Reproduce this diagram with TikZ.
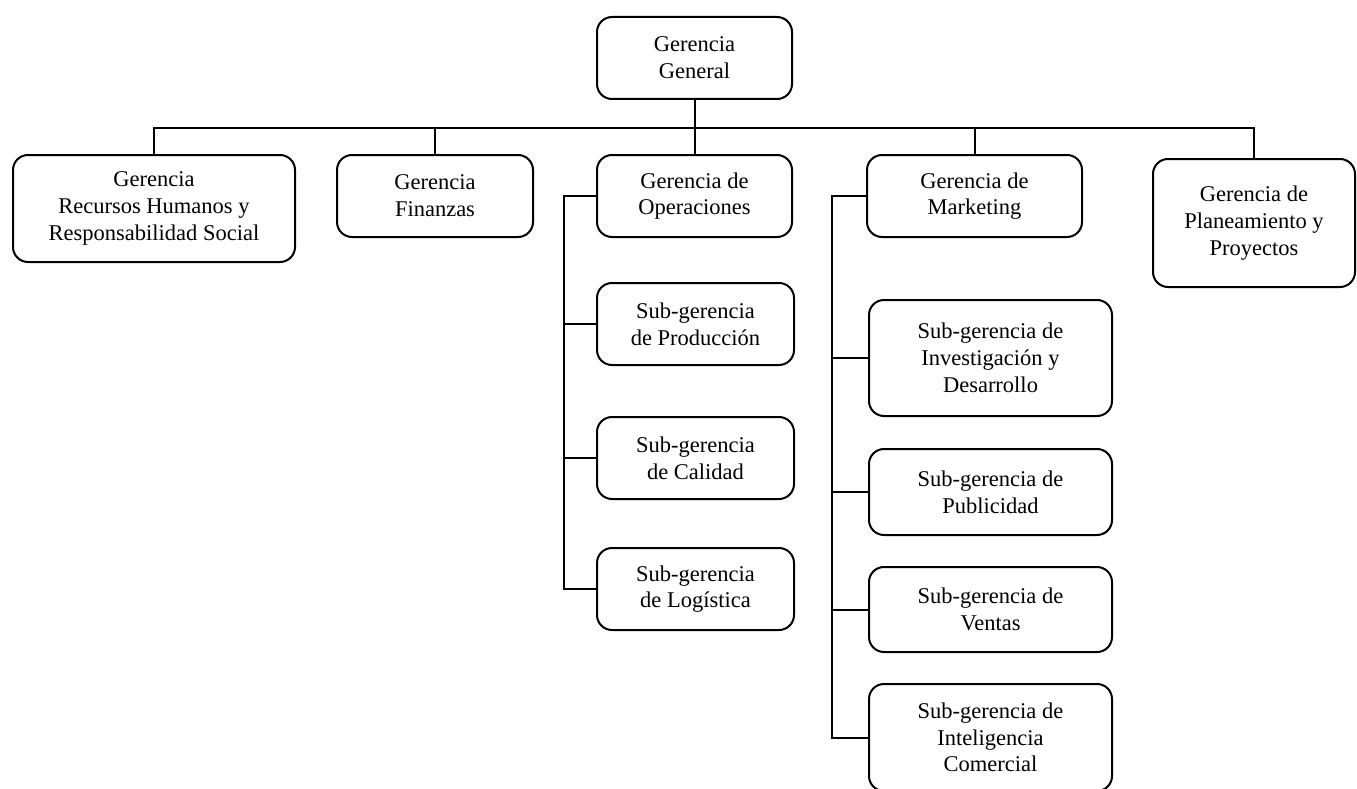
\documentclass[tikz,border=0pt]{standalone}
\usepackage{fontspec}
\setmainfont{Liberation Serif}
\begin{document}
\begin{tikzpicture}[x=1pt,y=-1pt,
  unit/.style={draw, line width=2pt, rounded corners=15pt, align=center, inner sep=0pt, font=\fontsize{22.5pt}{26.7pt}\selectfont},
  link/.style={line width=2pt}]
\useasboundingbox (0,0) rectangle (1357,789);
\node[unit, minimum width=195pt, minimum height=82pt] (general) at (694.5,58) {Gerencia\\General};
\node[unit, minimum width=282pt, minimum height=107pt] (rrhh) at (154,208.5) {Gerencia\\Recursos Humanos y\\Responsabilidad Social};
\node[unit, minimum width=196pt, minimum height=82pt] (fin) at (435,196) {Gerencia\\Finanzas};
\node[unit, minimum width=195pt, minimum height=82pt] (ops) at (694.5,196) {Gerencia de\\Operaciones};
\node[unit, minimum width=215pt, minimum height=82pt] (mkt) at (974.5,196) {Gerencia de\\Marketing};
\node[unit, minimum width=202pt, minimum height=128pt] (plan) at (1254,223) {Gerencia de\\Planeamiento y\\Proyectos};
\node[unit, minimum width=197pt, minimum height=82pt] (prod) at (695.5,324) {Sub-gerencia\\de Producción};
\node[unit, minimum width=197pt, minimum height=82pt] (cal) at (695.5,458) {Sub-gerencia\\de Calidad};
\node[unit, minimum width=197pt, minimum height=82pt] (log) at (695.5,589) {Sub-gerencia\\de Logística};
\node[unit, minimum width=243pt, minimum height=116pt] (inv) at (990.5,358) {Sub-gerencia de\\Investigación y\\Desarrollo};
\node[unit, minimum width=243pt, minimum height=86pt] (pub) at (990.5,492) {Sub-gerencia de\\Publicidad};
\node[unit, minimum width=243pt, minimum height=85pt] (ven) at (990.5,609.5) {Sub-gerencia de\\Ventas};
\node[unit, minimum width=243pt, minimum height=107pt] (intel) at (990.5,737.5) {Sub-gerencia de\\Inteligencia\\Comercial};
\coordinate (bus) at (0,128);
\coordinate (opsline) at (564,0);
\coordinate (mktline) at (832,0);
\draw[link] (general.south) -- (ops.north);
\draw[link] (rrhh.north) -- (rrhh.north |- bus) -- (plan.north |- bus) -- (plan.north);
\draw[link] (fin.north) -- (fin.north |- bus);
\draw[link] (mkt.north) -- (mkt.north |- bus);
\draw[link] (ops.west) -- (ops.west -| opsline) -- (log.west -| opsline) -- (log.west);
\draw[link] (prod.west) -- (prod.west -| opsline);
\draw[link] (cal.west) -- (cal.west -| opsline);
\draw[link] (mkt.west) -- (mkt.west -| mktline) -- (intel.west -| mktline) -- (intel.west);
\draw[link] (inv.west) -- (inv.west -| mktline);
\draw[link] (pub.west) -- (pub.west -| mktline);
\draw[link] (ven.west) -- (ven.west -| mktline);
\end{tikzpicture}
\end{document}
